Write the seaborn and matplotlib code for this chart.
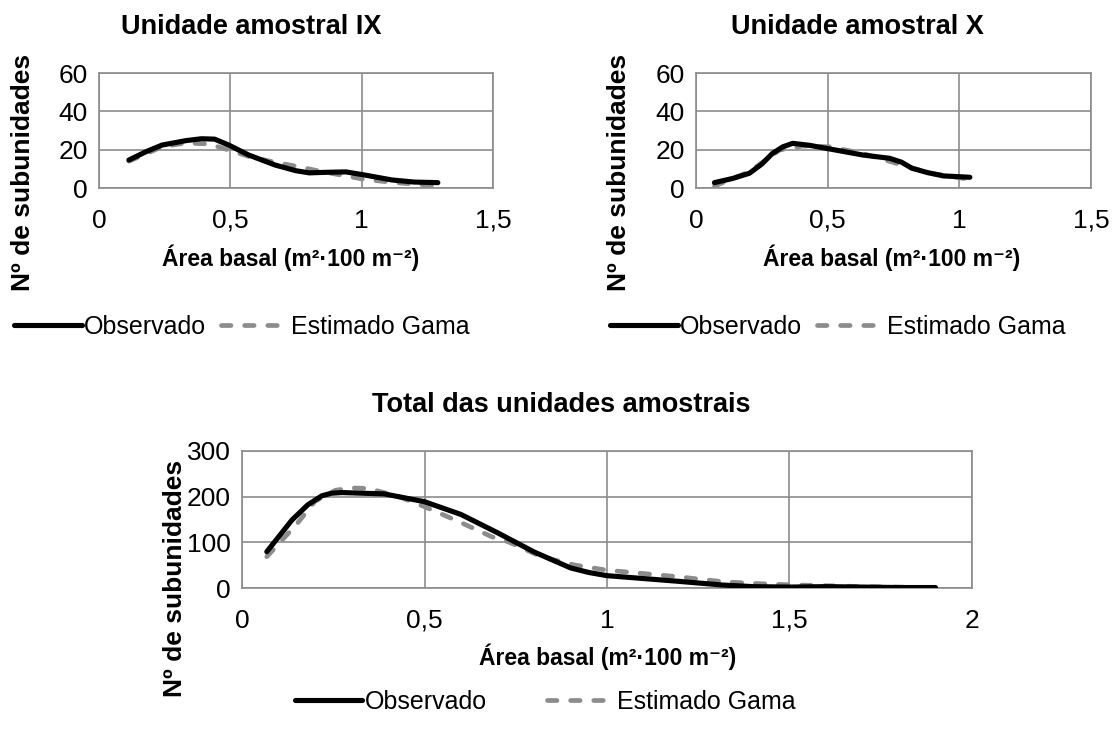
import numpy as np
import pandas as pd
import matplotlib
matplotlib.use("Agg")
import matplotlib.pyplot as plt
import seaborn as sns
from matplotlib.lines import Line2D

# ---- data ----
ix_obs_x = [0.114, 0.18, 0.24, 0.33, 0.39, 0.44, 0.494, 0.57, 0.67, 0.75, 0.80, 0.87, 0.94, 1.01, 1.115, 1.2, 1.29]
ix_obs_y = [14.6, 19, 22.4, 24.7, 25.7, 25.5, 22.4, 17.2, 12, 9, 7.9, 8.2, 8.4, 6.8, 4.2, 3.1, 2.8]
ix_gam_x = [0.114, 0.24, 0.33, 0.418, 0.494, 0.57, 0.66, 0.76, 0.85, 0.94, 1.01, 1.115, 1.27]
ix_gam_y = [14, 21.5, 23.5, 23, 19.8, 16.5, 13.7, 11.1, 8.5, 6.3, 4.5, 3, 1.2]

x_obs_x = [0.07, 0.14, 0.203, 0.25, 0.29, 0.33, 0.367, 0.43, 0.494, 0.634, 0.735, 0.78, 0.82, 0.88, 0.94, 1.04]
x_obs_y = [2.8, 5, 7.7, 12.5, 18, 21.5, 23.3, 22.3, 20.7, 17.2, 15.5, 13.5, 10.3, 8, 6.3, 5.6]
x_gam_x = [0.07, 0.203, 0.317, 0.405, 0.507, 0.634, 0.76, 0.89, 1.04]
x_gam_y = [1, 8.5, 19.8, 21.9, 21.5, 18, 12.9, 7.7, 4.5]

tot_obs_x = [0.068, 0.137, 0.18, 0.219, 0.245, 0.274, 0.39, 0.5, 0.6, 0.7, 0.8, 0.9, 0.95, 1.0, 1.19, 1.315, 1.4, 1.5, 1.6, 1.7, 1.8, 1.9]
tot_obs_y = [79.5, 149, 182, 202, 207.5, 209, 206, 189, 161, 121, 79, 44, 34, 27, 15, 6.6, 3, 2, 3, 2, 1, 1]
tot_gam_x = [0.068, 0.15, 0.2, 0.256, 0.3, 0.347, 0.43, 0.5, 0.584, 0.685, 0.73, 0.82, 0.913, 1.0, 1.19, 1.315, 1.4, 1.5, 1.6, 1.7, 1.8, 1.9]
tot_gam_y = [68.6, 140, 190, 214, 219, 218, 200, 178, 149, 112, 101, 68.6, 50, 39, 25, 14, 10, 7, 5, 3, 2, 1]

titles = ["Unidade amostral IX", "Unidade amostral X", "Total das unidades amostrais"]
series_names = ["Observado", "Estimado Gama"]
xlabel = "Área basal (m²·100 m⁻²)"
ylabel = "Nº de subunidades"

sns.set_style("white")
plt.rcParams['font.family'] = ['Liberation Sans', 'DejaVu Sans']
plt.rcParams['text.color'] = 'black'
plt.rcParams['axes.labelcolor'] = 'black'
plt.rcParams['xtick.color'] = 'black'
plt.rcParams['ytick.color'] = 'black'

W, H = 1118, 740
fig = plt.figure(figsize=(W / 100, H / 100), dpi=100)

def px_axes(x0, y0, x1, y1):
    return fig.add_axes([x0 / W, 1 - y1 / H, (x1 - x0) / W, (y1 - y0) / H])

GRID = "#8c8c8c"
OBS_C = "black"
GAM_C = "#8c8c8c"
DASH = (0, (2.0, 2.9))
LW_OBS = 3.7
LW_GAM = 3.4

def draw(ax, ox, oy, gx, gy, xmax, ymax, ystep, xticks):
    d1 = pd.DataFrame({"x": ox, "y": oy})
    d2 = pd.DataFrame({"x": gx, "y": gy})
    sns.lineplot(data=d2, x="x", y="y", ax=ax, color=GAM_C, lw=LW_GAM,
                 linestyle=DASH, dash_capstyle="round", solid_joinstyle="round",
                 zorder=3, label=series_names[1])
    sns.lineplot(data=d1, x="x", y="y", ax=ax, color=OBS_C, lw=LW_OBS,
                 zorder=4, label=series_names[0], solid_capstyle="round",
                 solid_joinstyle="round")
    ax.set_xlim(0, xmax)
    ax.set_ylim(0, ymax)
    ax.set_xticks(xticks)
    ax.set_xticklabels([("%g" % t).replace(".", ",") for t in xticks])
    ax.set_yticks(np.arange(0, ymax + 1, ystep))
    ax.grid(True, color=GRID, lw=1.2)
    for s in ax.spines.values():
        s.set_color(GRID)
        s.set_linewidth(1.2)
    ax.tick_params(axis="both", length=0, labelsize=19, pad=8)
    ax.tick_params(axis="x", pad=15)
    ax.set_xlabel("")
    ax.set_ylabel("")
    ax.get_legend().remove()

ax1 = px_axes(99, 73, 493, 188)
draw(ax1, ix_obs_x, ix_obs_y, ix_gam_x, ix_gam_y, 1.5, 60, 20, [0, 0.5, 1, 1.5])
ax2 = px_axes(696, 73, 1091, 188)
draw(ax2, x_obs_x, x_obs_y, x_gam_x, x_gam_y, 1.5, 60, 20, [0, 0.5, 1, 1.5])
ax3 = px_axes(242, 451, 972, 588)
draw(ax3, tot_obs_x, tot_obs_y, tot_gam_x, tot_gam_y, 2, 300, 100, [0, 0.5, 1, 1.5, 2])

def ftext(x, y, s, **kw):
    fig.text(x / W, 1 - y / H, s, **kw)

# titles
ftext(251, 27, titles[0], ha="center", va="center", fontsize=19.5, fontweight="bold")
ftext(857, 27, titles[1], ha="center", va="center", fontsize=19.5, fontweight="bold")
ftext(561, 405, titles[2], ha="center", va="center", fontsize=19.5, fontweight="bold")

# axis labels
ftext(291, 258, xlabel, ha="center", va="center", fontsize=16.5, fontweight="bold")
ftext(892, 258, xlabel, ha="center", va="center", fontsize=16.5, fontweight="bold")
ftext(608, 657, xlabel, ha="center", va="center", fontsize=16.5, fontweight="bold")
ftext(23, 172, ylabel, ha="center", va="center", rotation=90, fontsize=19, fontweight="bold")
ftext(619, 172, ylabel, ha="center", va="center", rotation=90, fontsize=19, fontweight="bold")
ftext(175, 578, ylabel, ha="center", va="center", rotation=90, fontsize=19, fontweight="bold")

# legends
def legend_at(cx, cy, spacing):
    h = [Line2D([], [], color=OBS_C, lw=LW_OBS, solid_capstyle="round"),
         Line2D([], [], color=GAM_C, lw=LW_GAM, linestyle=DASH, dash_capstyle="round")]
    fig.legend(h, series_names, loc="center", bbox_to_anchor=(cx / W, 1 - cy / H),
               ncol=2, frameon=False, fontsize=18, handlelength=2.7,
               handletextpad=0.1, columnspacing=spacing, borderaxespad=0)

legend_at(242, 327, 0.6)
legend_at(838, 327, 0.6)
legend_at(545, 702, 2.4)

fig.savefig("out.png", dpi=100)
